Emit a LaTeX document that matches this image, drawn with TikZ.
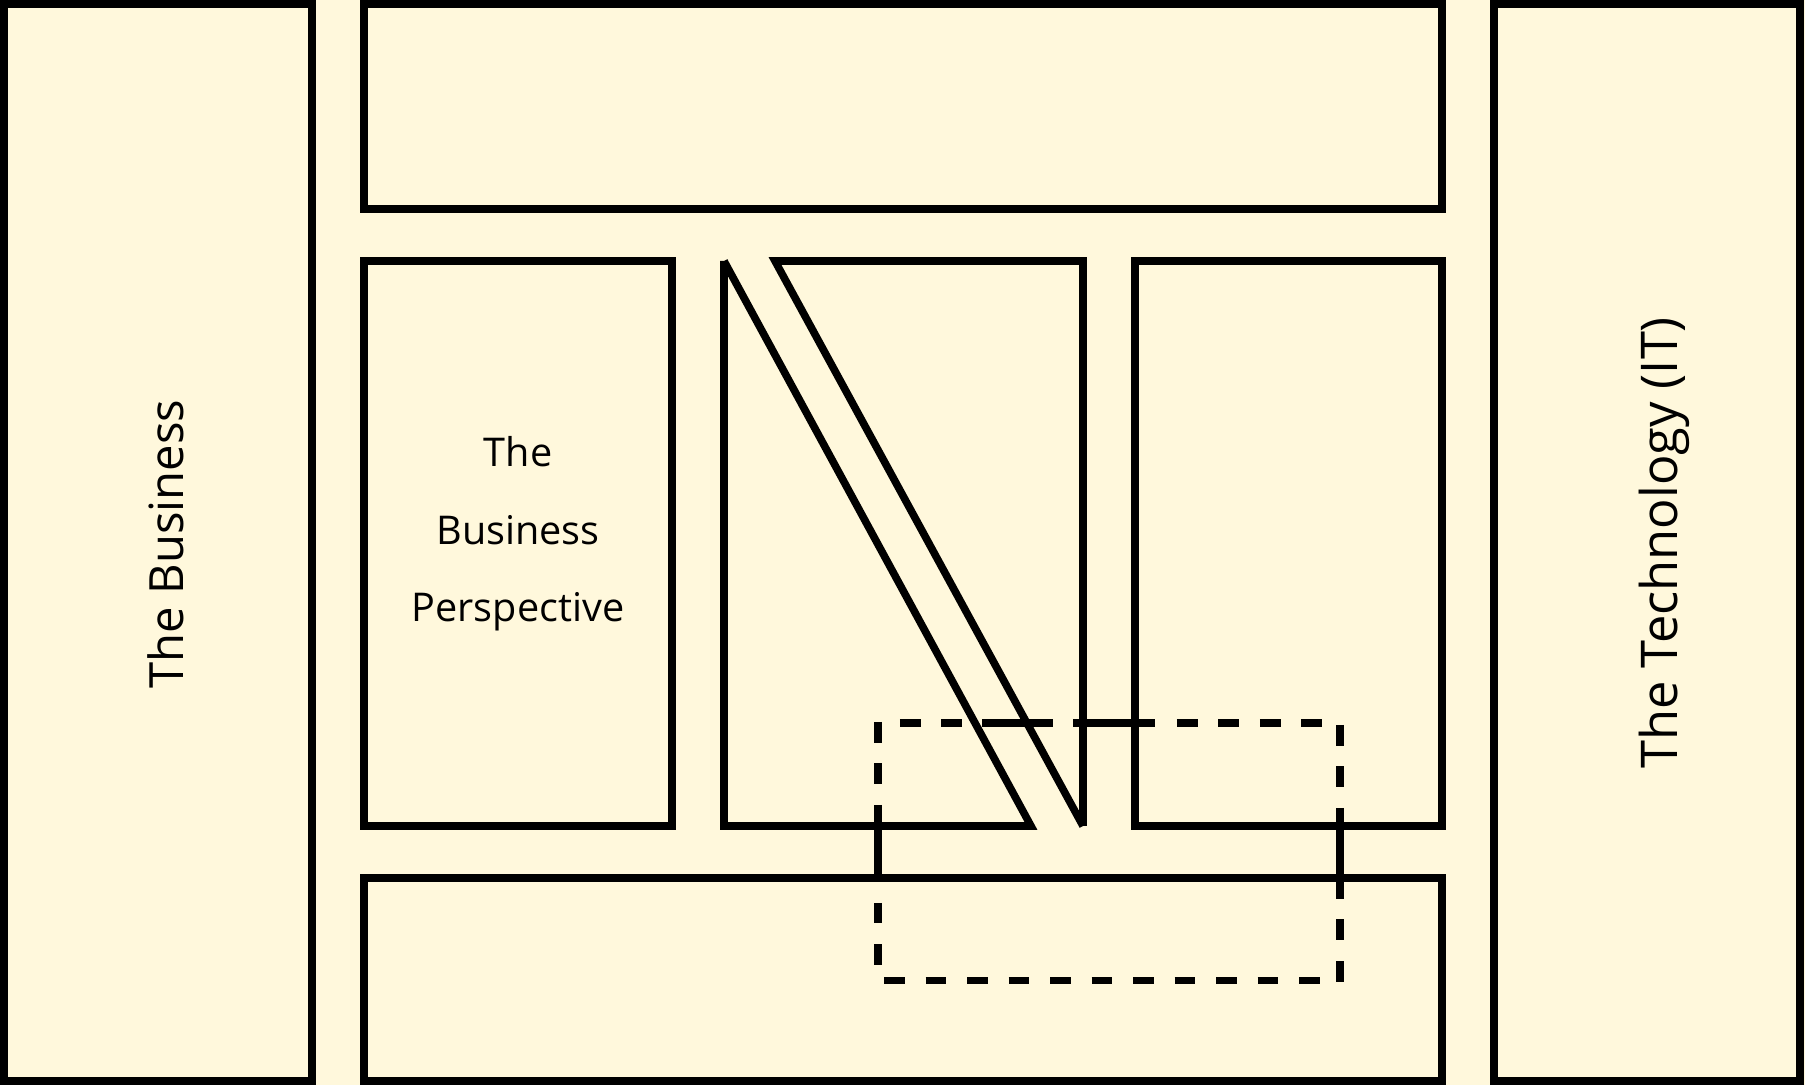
\documentclass[tikz,border=0pt]{standalone}
\usepackage{fontspec}
\setmainfont{Open Sans}
\definecolor{cream}{RGB}{255,248,220}
\tikzset{
  boxline/.style={draw=black, line width=7.6pt, fill=cream},
  plainline/.style={draw=black, line width=7.6pt, line cap=butt},
  dashfirst/.style={draw=black, line width=7.6pt, line cap=butt, dash pattern={on 20.7pt off 20.8pt}},
  gapfirst/.style={draw=black, line width=7.6pt, line cap=butt, dash pattern={on 20.7pt off 20.8pt}, dash phase=20.7pt},
  label/.style={inner sep=0pt, outer sep=0pt, text=black}
}
\begin{document}
\begin{tikzpicture}[x=1pt,y=1pt]
\useasboundingbox (0,0) rectangle (1805,1085);
\fill[cream] (0,0) rectangle (1805,1085);
% outer columns and bands
\draw[boxline] (4,4) rectangle (312,1081);
\draw[boxline] (1494,4) rectangle (1800,1081);
\draw[boxline] (364,876) rectangle (1442,1081);
\draw[boxline] (364,4) rectangle (1442,207);
% middle row
\draw[boxline] (364,259) rectangle (672,824);
\draw[boxline] (1135,259) rectangle (1442,824);
\draw[plainline, line join=miter] (724,824) -- (724,259) -- (1031,259) -- (724,824);
\draw[plainline, line join=miter] (1083,259) -- (1083,824) -- (775,824) -- (1083,259);
% dashed frame
\draw[gapfirst] (879,362) -- (982,362);
\draw[plainline] (982,362) -- (1053,362);
\draw[plainline] (1073,362) -- (1155,362);
\draw[gapfirst] (1156,362) -- (1340,362);
\draw[dashfirst] (878,363) -- (878,259);
\draw[plainline] (878,259) -- (878,203);
\draw[gapfirst] (878,203) -- (878,104);
\draw[dashfirst] (1340,360) -- (1340,259);
\draw[plainline] (1340,259) -- (1340,207);
\draw[dashfirst] (1340,207) -- (1340,102);
\draw[dashfirst] (884,104.5) -- (1340,104.5);
% texts
\node[label, rotate=90, anchor=base, font=\fontsize{47.2}{56}\selectfont] (business) at (183,541) {The Business};
\node[label, rotate=90, anchor=base, font=\fontsize{50.6}{60}\selectfont] (technology) at (1677,542) {The Technology (IT)};
\node[label, align=center, font=\fontsize{39.6}{77.5}\selectfont] (perspective) at (518,551) {The\\Business\\Perspective};
\end{tikzpicture}
\end{document}
